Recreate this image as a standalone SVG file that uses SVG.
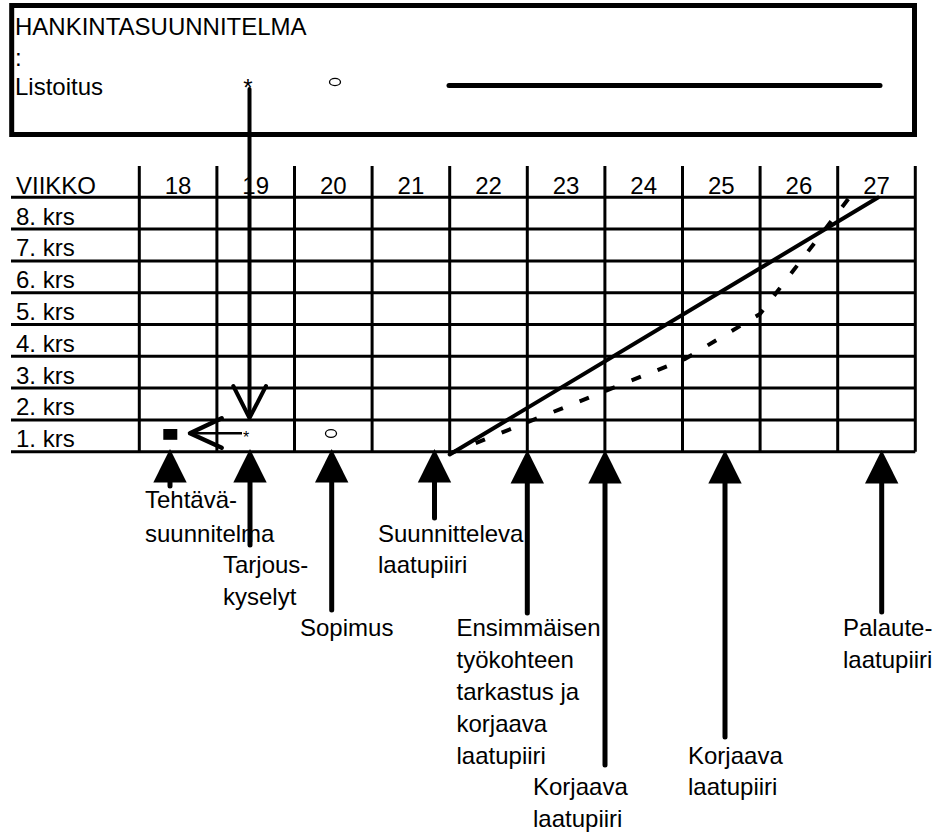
<svg xmlns="http://www.w3.org/2000/svg" width="941" height="832" viewBox="0 0 941 832">
  <style>
    text { font-family: "Liberation Sans", Arial, sans-serif; font-size: 24px; fill: #000; }
    .wk { text-anchor: middle; }
    .grid line { stroke: #000; stroke-width: 3; }
    .shaft { stroke: #000; stroke-width: 5; stroke-linecap: round; fill: none; }
    .head { fill: #000; }
    .thin { stroke: #000; stroke-width: 4; stroke-linecap: round; stroke-linejoin: round; fill: none; }
    .mark { fill: none; stroke: #000; stroke-width: 1.3; }
  </style>
  <defs>
    <polygon id="tri" points="0,0 -16.7,33.5 16.7,33.5"/>
  </defs>
  <rect width="941" height="832" fill="#fff"/>

  <!-- procurement plan box -->
  <g id="plan">
    <rect x="11.7" y="5.5" width="902.8" height="129" fill="none" stroke="#000" stroke-width="5"/>
    <text x="15" y="35">HANKINTASUUNNITELMA</text>
    <text x="15" y="66">:</text>
    <text x="15" y="95">Listoitus</text>
    <text x="248" y="96" class="wk">*</text>
    <ellipse cx="335" cy="82" rx="5.5" ry="3.6" class="mark"/>
    <line x1="449" y1="85.5" x2="880" y2="85.5" stroke="#000" stroke-width="5" stroke-linecap="round"/>
  </g>

  <!-- week / floor schedule grid -->
  <g id="grid" class="grid">
    <line x1="11" y1="197.3" x2="915.3" y2="197.3"/>
    <line x1="11" y1="229.1" x2="915.3" y2="229.1"/>
    <line x1="11" y1="260.9" x2="915.3" y2="260.9"/>
    <line x1="11" y1="292.7" x2="915.3" y2="292.7"/>
    <line x1="11" y1="324.5" x2="915.3" y2="324.5"/>
    <line x1="11" y1="356.3" x2="915.3" y2="356.3"/>
    <line x1="11" y1="388.1" x2="915.3" y2="388.1"/>
    <line x1="11" y1="419.9" x2="915.3" y2="419.9"/>
    <line x1="11" y1="451.7" x2="915.3" y2="451.7"/>
    <line x1="139.3" y1="166" x2="139.3" y2="451.7"/>
    <line x1="216.9" y1="166" x2="216.9" y2="451.7"/>
    <line x1="294.5" y1="166" x2="294.5" y2="451.7"/>
    <line x1="372.1" y1="166" x2="372.1" y2="451.7"/>
    <line x1="449.7" y1="166" x2="449.7" y2="451.7"/>
    <line x1="527.3" y1="166" x2="527.3" y2="451.7"/>
    <line x1="604.9" y1="166" x2="604.9" y2="451.7"/>
    <line x1="682.5" y1="166" x2="682.5" y2="451.7"/>
    <line x1="760.1" y1="166" x2="760.1" y2="451.7"/>
    <line x1="837.7" y1="166" x2="837.7" y2="451.7"/>
    <line x1="915.3" y1="166" x2="915.3" y2="451.7"/>
  </g>

  <g id="header">
    <text x="16" y="194">VIIKKO</text>
    <text x="178.1" y="194" class="wk">18</text>
    <text x="255.7" y="194" class="wk">19</text>
    <text x="333.3" y="194" class="wk">20</text>
    <text x="410.9" y="194" class="wk">21</text>
    <text x="488.5" y="194" class="wk">22</text>
    <text x="566.1" y="194" class="wk">23</text>
    <text x="643.7" y="194" class="wk">24</text>
    <text x="721.3" y="194" class="wk">25</text>
    <text x="798.9" y="194" class="wk">26</text>
    <text x="876.5" y="194" class="wk">27</text>
  </g>

  <g id="floors">
    <text x="16" y="224.6">8. krs</text>
    <text x="16" y="256.4">7. krs</text>
    <text x="16" y="288.2">6. krs</text>
    <text x="16" y="320">5. krs</text>
    <text x="16" y="351.8">4. krs</text>
    <text x="16" y="383.6">3. krs</text>
    <text x="16" y="415.4">2. krs</text>
    <text x="16" y="447.2">1. krs</text>
  </g>

  <!-- milestone marks on the first floor -->
  <g id="marks">
    <rect x="163.3" y="429" width="14" height="10.8" fill="#000"/>
    <text x="246" y="443" class="wk" style="font-size:16px">*</text>
    <ellipse cx="331" cy="433.5" rx="5.5" ry="3.8" class="mark"/>
  </g>

  <!-- planned and actual progress -->
  <g id="progress">
    <line x1="449.7" y1="454.5" x2="878" y2="197.5" stroke="#000" stroke-width="4" stroke-linecap="round"/>
    <polyline points="449.7,453.5 685,359 760,314 849,198" fill="none" stroke="#000" stroke-width="4" stroke-dasharray="10 18"/>
  </g>

  <!-- bottom labels -->
  <g id="n-tehtava">
    <text x="145" y="508">Tehtävä-</text>
    <text x="145" y="541.5">suunnitelma</text>
  </g>
  <g id="n-tarjous">
    <text x="223" y="573">Tarjous-</text>
    <text x="223" y="605">kyselyt</text>
  </g>
  <g id="n-sopimus">
    <text x="300" y="636">Sopimus</text>
  </g>
  <g id="n-suunnitteleva">
    <text x="378" y="541.5">Suunnitteleva</text>
    <text x="378" y="573">laatupiiri</text>
  </g>
  <g id="n-ensimmaisen">
    <text x="456.5" y="636">Ensimmäisen</text>
    <text x="456.5" y="668">työkohteen</text>
    <text x="456.5" y="700">tarkastus ja</text>
    <text x="456.5" y="732">korjaava</text>
    <text x="456.5" y="763.5">laatupiiri</text>
  </g>
  <g id="n-korjaava1">
    <text x="533" y="795">Korjaava</text>
    <text x="533" y="827">laatupiiri</text>
  </g>
  <g id="n-korjaava2">
    <text x="688" y="763.5">Korjaava</text>
    <text x="688" y="795">laatupiiri</text>
  </g>
  <g id="n-palaute">
    <text x="843" y="636">Palaute-</text>
    <text x="843" y="668">laatupiiri</text>
  </g>

  <!-- connectors -->
  <g id="connectors">
    <!-- from the plan down to the first floor, then back to the task plan -->
    <line x1="249.5" y1="89" x2="249.5" y2="416" class="thin"/>
    <polyline points="233.3,386 249.5,418 266,386" class="thin"/>
    <line x1="191" y1="433.3" x2="242" y2="433.3" stroke="#000" stroke-width="2.5"/>
    <polyline points="221.7,418.3 190,433.3 221.7,447.7" class="thin" style="stroke-width:4.5"/>

    <!-- milestone pointers -->
    <line x1="170" y1="470" x2="170" y2="486" class="shaft"/>
    <use href="#tri" x="170" y="449" class="head"/>
    <line x1="250" y1="470" x2="250" y2="545" class="shaft"/>
    <use href="#tri" x="250" y="449" class="head"/>
    <line x1="331.7" y1="470" x2="331.7" y2="610" class="shaft"/>
    <use href="#tri" x="331.7" y="449" class="head"/>
    <line x1="434.5" y1="470" x2="434.5" y2="518" class="shaft"/>
    <use href="#tri" x="434.5" y="449" class="head"/>
    <line x1="527.3" y1="470" x2="527.3" y2="613" class="shaft"/>
    <use href="#tri" x="527.3" y="450" class="head"/>
    <line x1="605" y1="470" x2="605" y2="765" class="shaft"/>
    <use href="#tri" x="605" y="450" class="head"/>
    <line x1="725" y1="470" x2="725" y2="737" class="shaft"/>
    <use href="#tri" x="725" y="450" class="head"/>
    <line x1="881.7" y1="470" x2="881.7" y2="612" class="shaft"/>
    <use href="#tri" x="881.7" y="450" class="head"/>
  </g>
</svg>
